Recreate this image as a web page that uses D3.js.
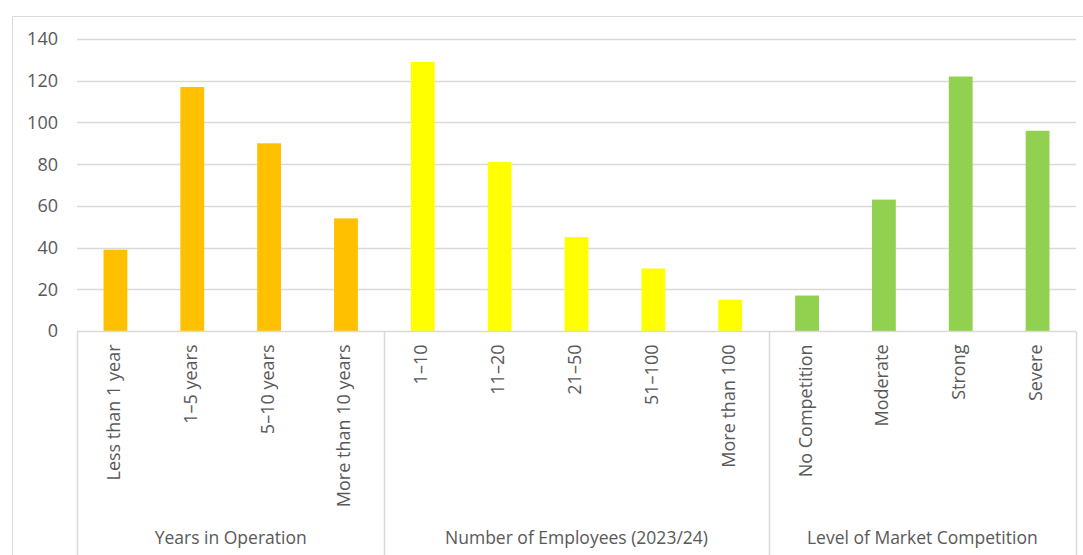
<!DOCTYPE html>
<html>
<head>
<meta charset="utf-8">
<script src="https://cdn.jsdelivr.net/npm/d3@7"></script>
<style>
  body { margin: 0; background: #fff; }
  svg text { font-family: "Open Sans", sans-serif; fill: #595959; }
</style>
</head>
<body>
<svg id="chart" width="1083" height="555"></svg>
<script>
// data
const groups = ["Years in Operation", "Number of Employees (2023/24)", "Level of Market Competition"]
const groupColors = ["#FFC000", "#FFFF00", "#92D050"]
const categories = [
    ["Less than 1 year", "1\u20135 years", "5\u201310 years", "More than 10 years"],
    ["1\u201310", "11\u201320", "21\u201350", "51\u2013100", "More than 100"],
    ["No Competition", "Moderate", "Strong", "Severe"]
]
const values = [
    [39, 117, 90, 54],
    [129, 81, 45, 30, 15],
    [17, 63, 122, 96]
]
const yTicks = [0, 20, 40, 60, 80, 100, 120, 140]

const width = 1083
const height = 555
const margin = {top: 39, left: 77, right: 7, bottom: 224}

let svg = d3.select("#chart")

// flatten into rows
let rows = []
categories.forEach((cats, gi) => {
    cats.forEach((c, ci) => {
        rows.push({group: gi, name: c, value: values[gi][ci], key: gi + "|" + c})
    })
})

let x = d3.scaleBand()
    .domain(rows.map(d => d.key))
    .range([margin.left, width - margin.right])
    .paddingInner(0.69)
    .paddingOuter(0.345)

let y = d3.scaleLinear()
    .domain([0, 140])
    .range([height - margin.bottom, margin.top])

// outer chart frame
svg.append("path")
    .attr("d", `M12.5,${height} V16.5 H${width}`)
    .attr("fill", "none")
    .attr("stroke", "#d9d9d9")
    .attr("stroke-width", 1)

// gridlines
svg.append("g")
    .selectAll("line")
    .data(yTicks.slice(1))
    .join("line")
    .attr("x1", margin.left)
    .attr("x2", width - margin.right)
    .attr("y1", d => Math.round(y(d)) + 0.5)
    .attr("y2", d => Math.round(y(d)) + 0.5)
    .attr("stroke", "#d9d9d9")
    .attr("stroke-width", 1.5)

// y labels
svg.append("g")
    .selectAll("text")
    .data(yTicks)
    .join("text")
    .attr("x", 58)
    .attr("y", d => y(d))
    .attr("dy", "0.36em")
    .attr("text-anchor", "end")
    .attr("font-size", "18px")
    .text(d => d)

// bars
svg.append("g")
    .selectAll("rect")
    .data(rows)
    .join("rect")
    .attr("x", d => x(d.key))
    .attr("y", d => y(d.value))
    .attr("width", x.bandwidth())
    .attr("height", d => y(0) - y(d.value))
    .attr("fill", d => groupColors[d.group])

// category axis line
let y0 = Math.round(y(0)) + 0.5
svg.append("line")
    .attr("x1", margin.left)
    .attr("x2", width - margin.right)
    .attr("y1", y0)
    .attr("y2", y0)
    .attr("stroke", "#d9d9d9")
    .attr("stroke-width", 1.5)

// group dividers
let step = x.step()
let bounds = [0]
categories.forEach((c, i) => bounds.push(bounds[i] + c.length))
svg.append("g")
    .selectAll("line")
    .data(bounds)
    .join("line")
    .attr("x1", d => Math.round(margin.left + d * step) + 0.5)
    .attr("x2", d => Math.round(margin.left + d * step) + 0.5)
    .attr("y1", y0)
    .attr("y2", height)
    .attr("stroke", "#d9d9d9")
    .attr("stroke-width", 1.5)

// rotated category labels
svg.append("g")
    .selectAll("text")
    .data(rows)
    .join("text")
    .attr("transform", d => `translate(${x(d.key) + x.bandwidth() / 2 - 2},${y0 + 13}) rotate(-90)`)
    .attr("dy", "0.36em")
    .attr("text-anchor", "end")
    .attr("font-size", "18px")
    .text(d => d.name)

// group labels
svg.append("g")
    .selectAll("text")
    .data(groups)
    .join("text")
    .attr("x", (d, i) => margin.left + (bounds[i] + bounds[i + 1]) / 2 * step)
    .attr("y", 544)
    .attr("text-anchor", "middle")
    .attr("font-size", "17.5px")
    .text(d => d)
</script>
</body>
</html>
